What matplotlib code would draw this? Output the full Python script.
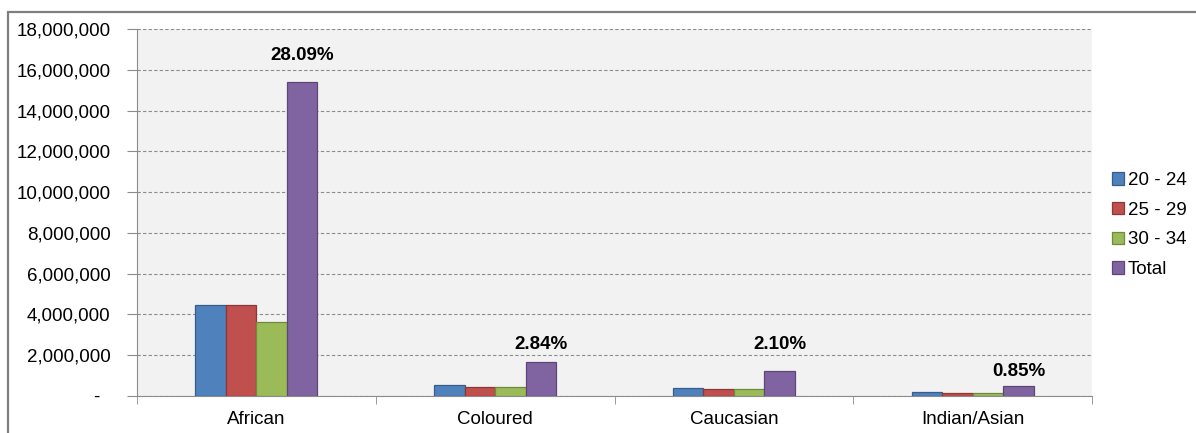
import matplotlib.pyplot as plt
import numpy as np
from matplotlib.ticker import FuncFormatter, FixedLocator
from matplotlib.patches import Rectangle

plt.rcParams['font.family'] = ['Liberation Sans', 'DejaVu Sans']

groups = ['African', 'Coloured', 'Caucasian', 'Indian/Asian']
series = ['20 - 24', '25 - 29', '30 - 34', 'Total']
age_20_24 = [4480000, 540000, 410000, 180000]
age_25_29 = [4470000, 440000, 340000, 170000]
age_30_34 = [3610000, 440000, 340000, 170000]
total = [15410000, 1650000, 1240000, 500000]
pct_labels = ['28.09%', '2.84%', '2.10%', '0.85%']

values = [age_20_24, age_25_29, age_30_34, total]
colors = ['#4F81BD', '#C0504D', '#9BBB59', '#8064A2']
edges = ['#385D8A', '#8C3836', '#71893F', '#5C4776']
# label offsets above the total bars, in points
label_offsets = [19, 13, 19, 10]

fig = plt.figure(figsize=(11.96, 4.33), dpi=100)
ax = fig.add_axes([137 / 1196, 37 / 433, (1092 - 137) / 1196, (396 - 29) / 433])
ax.set_facecolor('#F2F2F2')

# outer chart border
fig.patches.append(Rectangle((8 / 1196, -0.1), 1.2, (433 - 12) / 433 + 0.1,
                             transform=fig.transFigure, fill=False,
                             edgecolor='#7F7F7F', linewidth=1.6))

x = np.arange(len(groups))
w = 0.128
for i, (name, vals) in enumerate(zip(series, values)):
    pos = x + (i - 1.5) * w
    ax.bar(pos, vals, width=w, color=colors[i], edgecolor=edges[i],
           linewidth=0.9, label=name, zorder=3)

for i, lab in enumerate(pct_labels):
    ax.annotate(lab, (x[i] + 1.5 * w, total[i]), xytext=(0, label_offsets[i]),
                textcoords='offset points', ha='center', va='center',
                fontsize=13.5, fontweight='bold', zorder=4)

ax.set_xlim(-0.5, 3.5)
ax.set_ylim(0, 18000000)
ax.set_yticks(np.arange(0, 18000001, 2000000))
ax.yaxis.set_major_formatter(FuncFormatter(lambda v, p: '-  ' if v == 0 else f'{int(v):,}'))
ax.grid(axis='y', color='#8C8C8C', linestyle=(0, (3, 2)), linewidth=0.8, zorder=0)

ax.set_xticks(x)
ax.set_xticklabels(groups)
ax.xaxis.set_minor_locator(FixedLocator([-0.5, 0.5, 1.5, 2.5, 3.5]))
ax.tick_params(axis='x', which='major', length=0, pad=11, labelsize=13.5)
ax.tick_params(axis='x', which='minor', length=6, color='#8C8C8C')
ax.tick_params(axis='y', length=7, color='#8C8C8C', labelsize=13.5, pad=12)

for s in ['top', 'right']:
    ax.spines[s].set_visible(False)
for s in ['left', 'bottom']:
    ax.spines[s].set_color('#8C8C8C')

ax.legend(loc='center left', bbox_to_anchor=(1.013, 0.466), frameon=False,
          fontsize=13.5, handlelength=0.65, handleheight=0.65, handletextpad=0.2,
          labelspacing=0.68, borderaxespad=0)

fig.savefig('out.png', dpi=100)
